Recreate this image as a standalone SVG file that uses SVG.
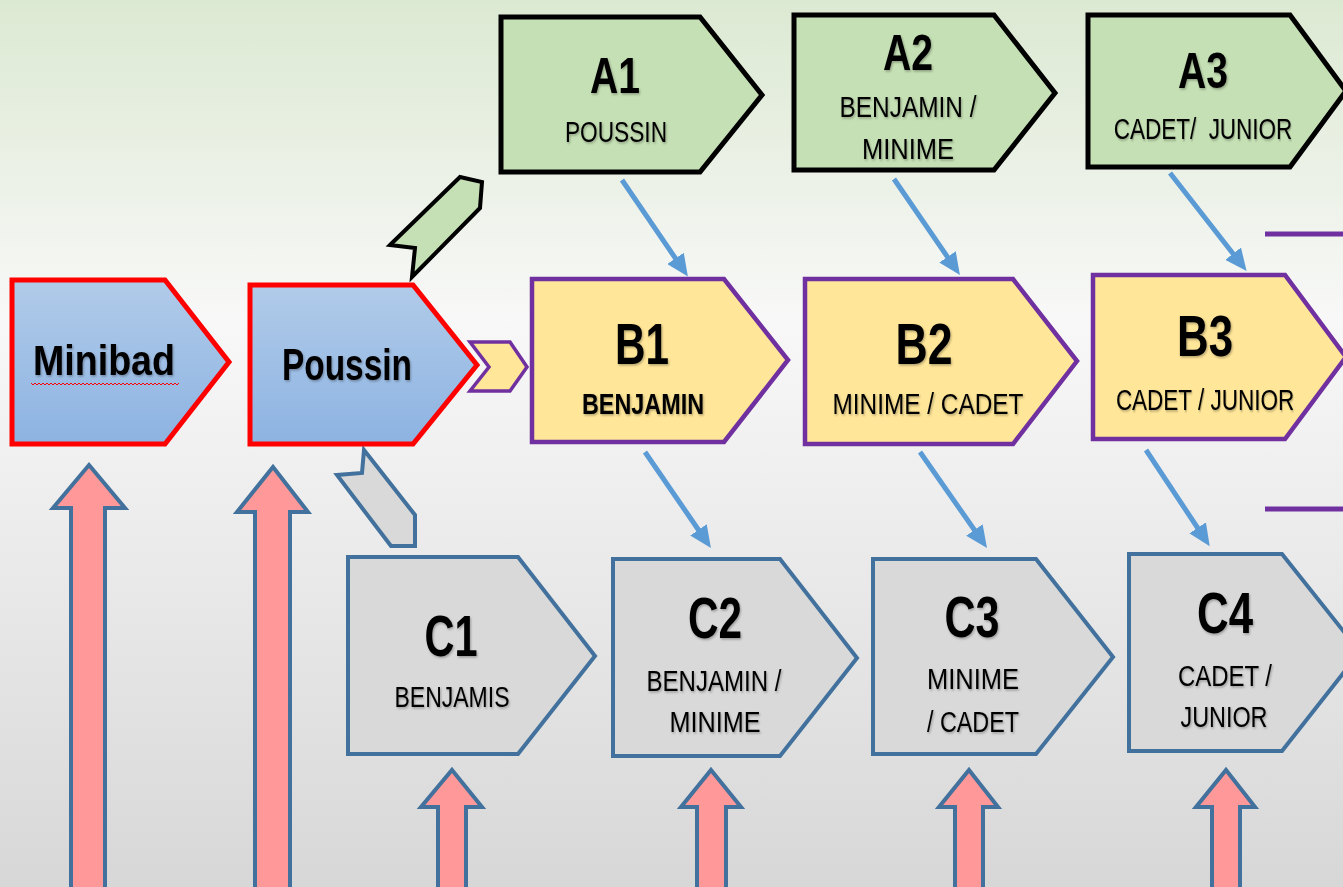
<svg xmlns="http://www.w3.org/2000/svg" width="1343" height="887" viewBox="0 0 1343 887">
<defs>
<linearGradient id="bg" x1="0" y1="0" x2="0" y2="1">
<stop offset="0" stop-color="#dce9d2"/>
<stop offset="0.36" stop-color="#f8f8f8"/>
<stop offset="1" stop-color="#d7d7d7"/>
</linearGradient>
<linearGradient id="blueFill" x1="0" y1="0" x2="0" y2="1">
<stop offset="0" stop-color="#b1cbe9"/>
<stop offset="1" stop-color="#8db3e2"/>
</linearGradient>
<marker id="ah" markerUnits="userSpaceOnUse" markerWidth="22" markerHeight="20" viewBox="0 0 22 20" refX="8" refY="10" orient="auto">
<path d="M0,0 L22,10 L0,20 z" fill="#5b9bd5"/>
</marker>
<filter id="ts" x="-10%" y="-10%" width="130%" height="140%">
<feDropShadow dx="1" dy="1.5" stdDeviation="1" flood-color="#000" flood-opacity="0.3"/>
</filter>
</defs>
<style>
.t{font-family:"Liberation Sans",Arial,sans-serif;fill:#000;text-anchor:middle;white-space:pre;filter:url(#ts)}
.big{font-weight:bold;font-size:50px}
.huge{font-weight:bold;font-size:58px}
.sub{font-size:30px}
.subb{font-size:30px;font-weight:bold}
.nodeA{fill:#c5e0b4;stroke:#000;stroke-width:5}
.nodeB{fill:#ffe699;stroke:#7030a0;stroke-width:4.5}
.nodeC{fill:#d9d9d9;stroke:#41719c;stroke-width:4}
.nodeP{fill:url(#blueFill);stroke:#ff0000;stroke-width:5}
.up{fill:#ff9999;stroke:#41719c;stroke-width:4}
.conn{stroke:#5b9bd5;stroke-width:5;fill:none;marker-end:url(#ah)}
.pl{stroke:#7030a0;stroke-width:5}
</style>
<rect x="0" y="0" width="1343" height="887" fill="url(#bg)"/>

<g id="up-arrows">
<polygon class="up" points="89,465 125,508 105,508 105,892 71,892 71,508 53,508"/>
<polygon class="up" points="273,467 308,512 290,512 290,892 255,892 255,512 237,512"/>
<polygon class="up" points="452,770 482,807 466,807 466,892 438,892 438,807 421,807"/>
<polygon class="up" points="711,770 741,807 726,807 726,892 697,892 697,807 681,807"/>
<polygon class="up" points="969,770 998,807 983,807 983,892 955,892 955,807 939,807"/>
<polygon class="up" points="1226,770 1255,807 1240,807 1240,892 1212,892 1212,807 1196,807"/>
</g>

<g id="connectors">
<line class="conn" x1="622" y1="180" x2="680" y2="265"/>
<line class="conn" x1="894" y1="179" x2="952" y2="263.5"/>
<line class="conn" x1="1170" y1="173" x2="1238" y2="260"/>
<line class="conn" x1="645" y1="452" x2="703" y2="536.5"/>
<line class="conn" x1="920" y1="452" x2="979" y2="536.5"/>
<line class="conn" x1="1146" y1="450" x2="1202" y2="534.5"/>
<line class="pl" x1="1265" y1="234" x2="1343" y2="234"/>
<line class="pl" x1="1265" y1="509" x2="1343" y2="509"/>
<polygon points="390,245 460,177 482,182 480,208 412,277 415,248" fill="#c5e0b4" stroke="#000" stroke-width="4" stroke-linejoin="miter"/>
<polygon points="364,450 415,515 415,546 391,546 337,475 362,473" fill="#d9d9d9" stroke="#41719c" stroke-width="4"/>
<polygon points="470,342 510,342 527,367 510,391 470,391 489,367" fill="#ffe699" stroke="#7030a0" stroke-width="3.5"/>
</g>

<g id="minibad">
<polygon class="nodeP" points="12,280 165,280 229,362 165,444 12,444"/>
<text class="t" x="104" y="375" font-size="42" font-weight="bold" textLength="142" lengthAdjust="spacingAndGlyphs">Minibad</text>
<polyline points="31,383 33,385 35,383 37,385 39,383 41,385 43,383 45,385 47,383 49,385 51,383 53,385 55,383 57,385 59,383 61,385 63,383 65,385 67,383 69,385 71,383 73,385 75,383 77,385 79,383 81,385 83,383 85,385 87,383 89,385 91,383 93,385 95,383 97,385 99,383 101,385 103,383 105,385 107,383 109,385 111,383 113,385 115,383 117,385 119,383 121,385 123,383 125,385 127,383 129,385 131,383 133,385 135,383 137,385 139,383 141,385 143,383 145,385 147,383 149,385 151,383 153,385 155,383 157,385 159,383 161,385 163,383 165,385 167,383 169,385 171,383 173,385 175,383 177,385 179,383" fill="none" stroke="#ff0000" stroke-width="1"/>
</g>

<g id="poussin">
<polygon class="nodeP" points="250,285 413,285 477,365 413,444 250,444"/>
<text class="t" x="347" y="380" font-size="44" font-weight="bold" textLength="130" lengthAdjust="spacingAndGlyphs">Poussin</text>
</g>

<g id="A1">
<polygon class="nodeA" points="501,17 700,17 762,95 700,172 501,172"/>
<text class="t big" x="615" y="93" textLength="50" lengthAdjust="spacingAndGlyphs">A1</text>
<text class="t sub" x="616" y="142" textLength="102" lengthAdjust="spacingAndGlyphs">POUSSIN</text>
</g>

<g id="A2">
<polygon class="nodeA" points="794,15 994,15 1055,93 994,170 794,170"/>
<text class="t big" x="908" y="70" textLength="50" lengthAdjust="spacingAndGlyphs">A2</text>
<text class="t sub" x="908" y="117" textLength="137" lengthAdjust="spacingAndGlyphs">BENJAMIN /</text>
<text class="t sub" x="908" y="159" textLength="92" lengthAdjust="spacingAndGlyphs">MINIME</text>
</g>

<g id="A3">
<polygon class="nodeA" points="1088,15 1290,15 1346,91 1290,167 1088,167"/>
<text class="t big" x="1203" y="88" textLength="50" lengthAdjust="spacingAndGlyphs">A3</text>
<text class="t sub" transform="translate(1203,139) scale(0.75,1)" x="0" y="0">CADET/  JUNIOR</text>
</g>

<g id="B1">
<polygon class="nodeB" points="532,279 724,279 788,360 724,442 532,442"/>
<text class="t huge" x="642" y="364" textLength="54" lengthAdjust="spacingAndGlyphs">B1</text>
<text class="t subb" x="643" y="414" textLength="122" lengthAdjust="spacingAndGlyphs">BENJAMIN</text>
</g>

<g id="B2">
<polygon class="nodeB" points="805,279 1013,279 1077,361 1013,444 805,444"/>
<text class="t huge" x="924" y="364" textLength="57" lengthAdjust="spacingAndGlyphs">B2</text>
<text class="t sub" x="928" y="414" textLength="191" lengthAdjust="spacingAndGlyphs">MINIME / CADET</text>
</g>

<g id="B3">
<polygon class="nodeB" points="1093,275 1285,275 1346,357 1285,439 1093,439"/>
<text class="t huge" x="1205" y="356" textLength="56" lengthAdjust="spacingAndGlyphs">B3</text>
<text class="t sub" transform="translate(1205,410) scale(0.75,1)" x="0" y="0">CADET / JUNIOR</text>
</g>

<g id="C1">
<polygon class="nodeC" points="348,557 518,557 595,656 518,754 348,754"/>
<text class="t huge" x="451" y="656" textLength="53" lengthAdjust="spacingAndGlyphs">C1</text>
<text class="t sub" x="452" y="707" textLength="115" lengthAdjust="spacingAndGlyphs">BENJAMIS</text>
</g>

<g id="C2">
<polygon class="nodeC" points="613,559 780,559 857,658 780,756 613,756"/>
<text class="t huge" x="715" y="638" textLength="54" lengthAdjust="spacingAndGlyphs">C2</text>
<text class="t sub" x="714" y="691" textLength="135" lengthAdjust="spacingAndGlyphs">BENJAMIN /</text>
<text class="t sub" x="715" y="732" textLength="91" lengthAdjust="spacingAndGlyphs">MINIME</text>
</g>

<g id="C3">
<polygon class="nodeC" points="873,559 1036,559 1113,657 1036,754 873,754"/>
<text class="t huge" x="972" y="637" textLength="55" lengthAdjust="spacingAndGlyphs">C3</text>
<text class="t sub" x="973" y="689" textLength="92" lengthAdjust="spacingAndGlyphs">MINIME</text>
<text class="t sub" x="973" y="732" textLength="92" lengthAdjust="spacingAndGlyphs">/ CADET</text>
</g>

<g id="C4">
<polygon class="nodeC" points="1129,554 1282,554 1360,652 1282,751 1129,751"/>
<text class="t huge" x="1225" y="633" textLength="56" lengthAdjust="spacingAndGlyphs">C4</text>
<text class="t sub" x="1225" y="686" textLength="94" lengthAdjust="spacingAndGlyphs">CADET /</text>
<text class="t sub" x="1224" y="727" textLength="87" lengthAdjust="spacingAndGlyphs">JUNIOR</text>
</g>
</svg>
